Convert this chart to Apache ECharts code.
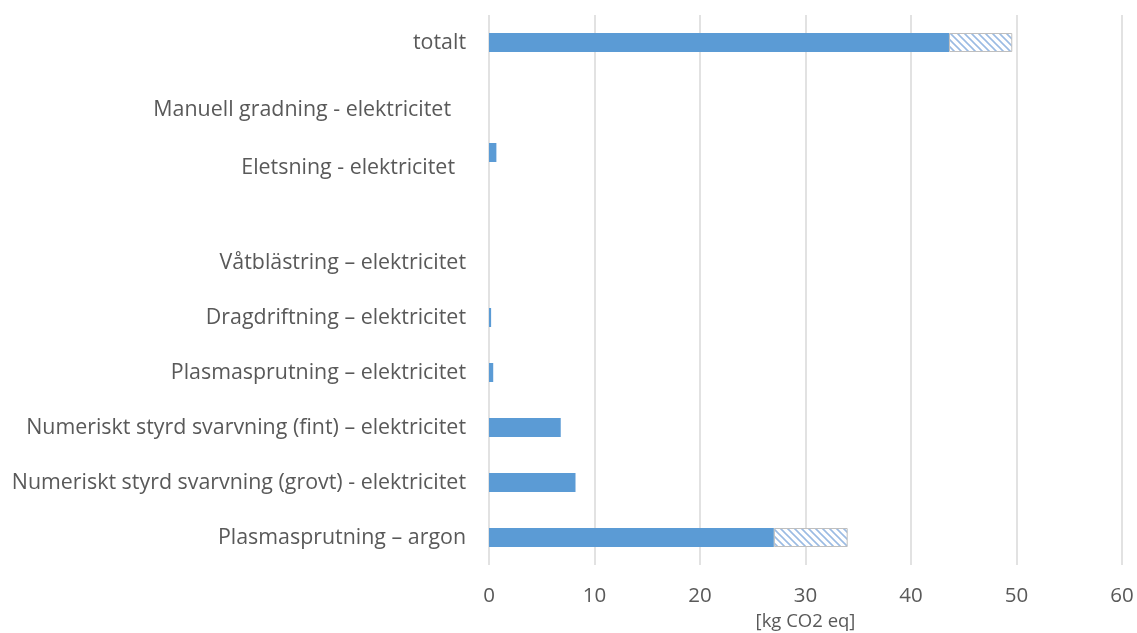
<!DOCTYPE html>
<html>
<head>
<meta charset="utf-8">
<script src="https://cdn.jsdelivr.net/npm/echarts@6/dist/echarts.min.js"></script>
<style>
  html, body { margin: 0; padding: 0; background: #fff; }
  #chart { width: 1137px; height: 633px; }
</style>
</head>
<body>
<div id="chart"></div>
<script>
// Process steps, top to bottom (one empty slot between the groups)
const categories = [
  'totalt',
  'Manuell gradning - elektricitet',
  'Eletsning - elektricitet',
  '',
  'Våtblästring – elektricitet',
  'Dragdriftning – elektricitet',
  'Plasmasprutning – elektricitet',
  'Numeriskt styrd svarvning (fint) – elektricitet',
  'Numeriskt styrd svarvning (grovt) - elektricitet',
  'Plasmasprutning – argon'
];

// Emissions, kg CO2 eq
const baseValues = [43.6, 0, 0.7, '-', 0, 0.2, 0.4, 6.8, 8.2, 27.0];
// Additional range shown hatched on top of the base value
const rangeValues = [6.0, '-', '-', '-', '-', '-', '-', '-', '-', 7.0];

const xTicks = { min: 0, max: 60, interval: 10 };
const axisTitle = '[kg CO2 eq]';

// Labels that sit a little below/left of their slot
const labelShift = {
  'Manuell gradning - elektricitet': 'm',
  'Eletsning - elektricitet': 'e'
};

// Diagonal hatch fill
function hatchPattern() {
  const s = 7;
  const c = document.createElement('canvas');
  c.width = s; c.height = s;
  const g = c.getContext('2d');
  g.fillStyle = '#ffffff';
  g.fillRect(0, 0, s, s);
  g.strokeStyle = '#9bbbe3';
  g.lineWidth = 1.6;
  g.beginPath();
  g.moveTo(-1, -1); g.lineTo(s + 1, s + 1);
  g.moveTo(-1, s - 1); g.lineTo(1, s + 1);
  g.moveTo(s - 1, -1); g.lineTo(s + 1, 1);
  g.stroke();
  return c;
}

const font = '"Open Sans", Lato, sans-serif';
const labelSize = 21.4;
const chart = echarts.init(document.getElementById('chart'));

chart.setOption({
  animation: false,
  grid: {
    left: 489, right: 15, top: 15, bottom: 68,
    containLabel: false,
    outerBoundsMode: 'none'
  },
  xAxis: {
    type: 'value',
    min: xTicks.min, max: xTicks.max, interval: xTicks.interval,
    name: axisTitle,
    nameLocation: 'middle',
    nameGap: 44,
    nameTextStyle: { color: '#595959', fontSize: 18.5, fontFamily: font },
    axisLine: { show: false },
    axisTick: { show: false },
    axisLabel: { color: '#595959', fontSize: 20.5, fontFamily: font, margin: 21 },
    splitLine: { lineStyle: { color: '#d9d9d9', width: 1.5 } }
  },
  yAxis: {
    type: 'category',
    data: categories,
    inverse: true,
    axisLine: { show: false },
    axisTick: { show: false },
    axisLabel: {
      color: '#595959', fontSize: labelSize, fontFamily: font, margin: 23,
      formatter: v => labelShift[v] ? '{' + labelShift[v] + '|' + v + '}' : v,
      rich: {
        m: { color: '#595959', fontSize: labelSize, fontFamily: font, padding: [25, 15, 0, 0] },
        e: { color: '#595959', fontSize: labelSize, fontFamily: font, padding: [31, 11, 0, 0] }
      }
    },
    splitLine: { show: false }
  },
  series: [
    {
      type: 'bar',
      stack: 'total',
      data: baseValues,
      barWidth: 19,
      itemStyle: { color: '#5b9bd5' }
    },
    {
      type: 'bar',
      stack: 'total',
      data: rangeValues,
      barWidth: 19,
      itemStyle: {
        color: { image: hatchPattern(), repeat: 'repeat' },
        borderColor: '#bfbfbf',
        borderWidth: 1
      }
    }
  ]
});
</script>
</body>
</html>
